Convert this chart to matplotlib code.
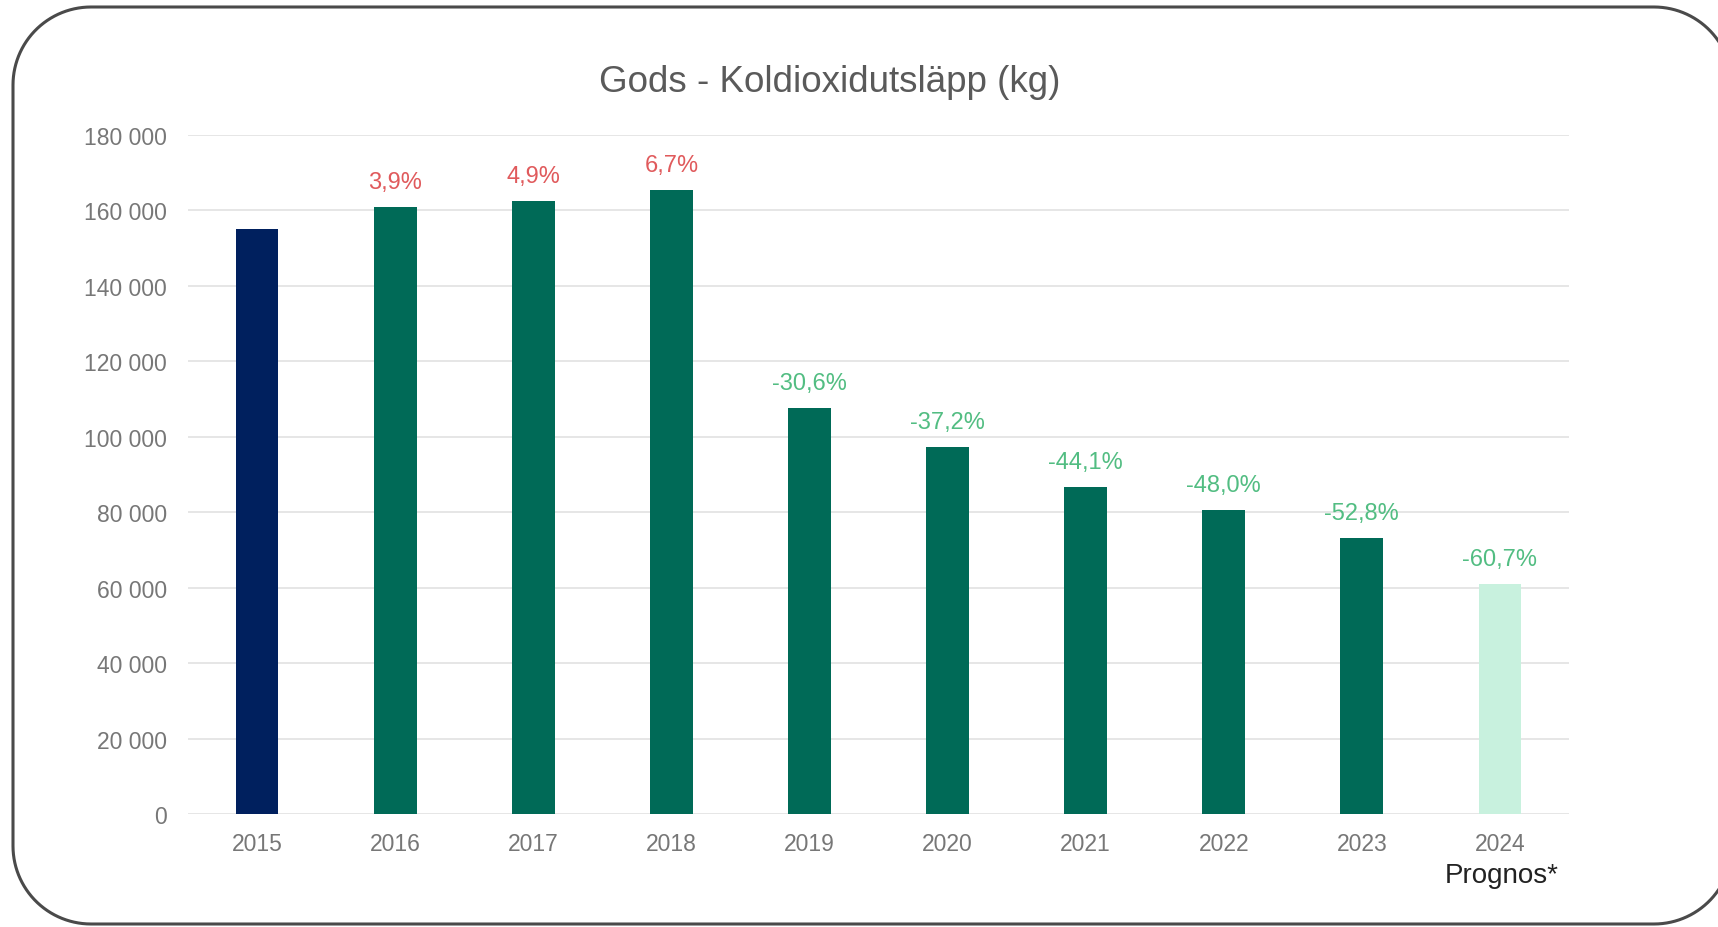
import numpy as np
import matplotlib
matplotlib.use("Agg")
import matplotlib.pyplot as plt
from matplotlib.lines import Line2D
from matplotlib.transforms import IdentityTransform

plt.rcParams['font.family'] = ['Liberation Sans', 'DejaVu Sans']

# Data
years = ["2015", "2016", "2017", "2018", "2019", "2020", "2021", "2022", "2023", "2024"]
emissions = [155000, 161000, 162600, 165400, 107600, 97300, 86600, 80600, 73200, 60900]
change_labels = ["", "3,9%", "4,9%", "6,7%", "-30,6%", "-37,2%", "-44,1%", "-48,0%", "-52,8%", "-60,7%"]
y_ticks = [0, 20000, 40000, 60000, 80000, 100000, 120000, 140000, 160000, 180000]

bar_colors = ["#00205e"] + ["#006a57"] * 8 + ["#c8f1de"]
red = "#e05a5c"
green = "#52bd82"

W, H = 1718, 928
fig = plt.figure(figsize=(W / 100, H / 100), dpi=100)
fig.patch.set_facecolor("white")


def corner(cx, cy, a0, a1, r=78):
    t = np.radians(np.linspace(a0, a1, 30))
    return cx + r * np.cos(t), cy + r * np.sin(t)


# rounded frame (pixels, y up); the right side lies just outside the picture
left, right, top, bottom, r = 13, 1732, H - 8, H - 925, 78
xs, ys = [], []
for cx, cy, a0, a1 in [(right - r, top - r, 0, 90), (left + r, top - r, 90, 180),
                       (left + r, bottom + r, 180, 270), (right - r, bottom + r, 270, 360)]:
    cxs, cys = corner(cx, cy, a0, a1, r)
    xs.extend(cxs)
    ys.extend(cys)
fig.add_artist(Line2D(xs, ys, transform=IdentityTransform(), color="#4a4a4a",
                      linewidth=2.2, solid_capstyle="round", zorder=10))

ax = fig.add_axes([188 / W, 1 - 815 / H, (1569 - 188) / W, (815 - 136) / H])
x = np.arange(len(years))
ax.bar(x, emissions, width=0.31, color=bar_colors, zorder=3)

ax.set_xlim(-0.5, len(years) - 0.5)
ax.set_ylim(0, 180000)
ax.set_yticks(y_ticks)
ax.set_yticklabels([f"{v:,}".replace(",", " ") for v in y_ticks])
ax.set_xticks(x)
ax.set_xticklabels(years)
ax.tick_params(axis="both", length=0, labelsize=16.5, labelcolor="#777777")
ax.tick_params(axis="y", pad=15)
ax.tick_params(axis="x", pad=13)
ax.grid(axis="y", color="#e6e6e6", linewidth=1.4, zorder=0)
for s in ax.spines.values():
    s.set_visible(False)

# percentage labels above bars
for xi, val, lab in zip(x, emissions, change_labels):
    if not lab:
        continue
    col = green if lab.startswith("-") else red
    ax.annotate(lab, (xi, val), xytext=(0, 18), textcoords="offset points",
                ha="center", va="center", fontsize=17, color=col)

# forecast note under the last year
ax.annotate("Prognos*", (x[-1], 0), xytext=(1, -44), textcoords="offset points",
            ha="center", va="center", fontsize=20, color="#222222",
            annotation_clip=False)

fig.text(830 / W, 1 - 83 / H, "Gods - Koldioxidutsläpp (kg)", ha="center",
         va="center", fontsize=26.5, color="#5a5a5a")

fig.savefig("out.png", dpi=100)
